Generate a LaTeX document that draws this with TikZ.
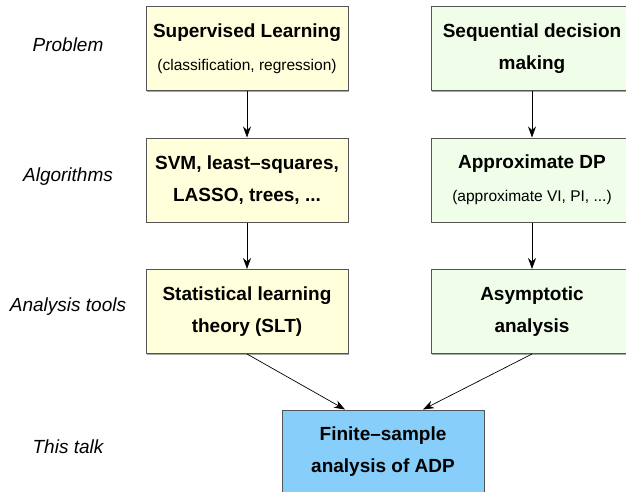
\documentclass[tikz,border=0pt]{standalone}
\usepackage{fontspec}
\setmainfont{Liberation Sans}
\definecolor{paleyellow}{HTML}{FFFFDB}
\definecolor{palegreen}{HTML}{F0FDE9}
\definecolor{skyblue}{HTML}{87CEFA}
\definecolor{edgegray}{HTML}{555555}
\usetikzlibrary{calc, positioning, arrows.meta, shadows}
\tikzset{
  rowlabel/.style={font=\fontsize{19}{22}\selectfont\itshape},
  stagebox/.style={draw=edgegray, line width=1pt, minimum width=202pt, minimum height=84pt,
    align=center, inner sep=0pt, font=\fontsize{19}{32}\selectfont\bfseries,
    drop shadow={shadow xshift=0.8pt, shadow yshift=-1pt, opacity=0.35, fill=black}},
  flow/.style={-{Stealth[length=11pt, width=8pt]}, line width=0.7pt}
}
\newcommand{\subline}[1]{{\mdseries\fontsize{15.5}{18}\selectfont #1}}

\begin{document}
\begin{tikzpicture}[x=1pt, y=-1pt]
  \useasboundingbox (0,0) rectangle (626,492);
  \node[rowlabel] (lprob) at (68,45) {Problem};
  \node[rowlabel] (lalg) at (68,177) {Algorithms};
  \node[rowlabel] (lana) at (68,307) {Analysis tools};
  \node[rowlabel] (ltalk) at (68,447) {This talk};
  \node[stagebox, fill=paleyellow] (sup) at (247,49) {Supervised Learning\\[1pt]\subline{(classification, regression)}};
  \node[stagebox, fill=paleyellow] (svm) at (247,180) {SVM, least--squares,\\LASSO, trees, ...};
  \node[stagebox, fill=paleyellow] (slt) at (247,311.5) {Statistical learning\\theory (SLT)};
  \node[stagebox, fill=palegreen] (seq) at (532,49) {Sequential decision\\making};
  \node[stagebox, fill=palegreen] (adp) at (532,180) {Approximate DP\\[1pt]\subline{(approximate VI, PI, ...)}};
  \node[stagebox, fill=palegreen] (asy) at (532,311.5) {Asymptotic\\analysis};
  \node[stagebox, fill=skyblue] (fin) at (383,452) {Finite--sample\\analysis of ADP};
  \draw[flow] (sup) -- (svm);
  \draw[flow] (svm) -- (slt);
  \draw[flow] (seq) -- (adp);
  \draw[flow] (adp) -- (asy);
  \draw[flow] (slt.south) -- ($(fin.north)+(-38,0)$);
  \draw[flow] (asy.south) -- ($(fin.north)+(40,0)$);
\end{tikzpicture}
\end{document}
